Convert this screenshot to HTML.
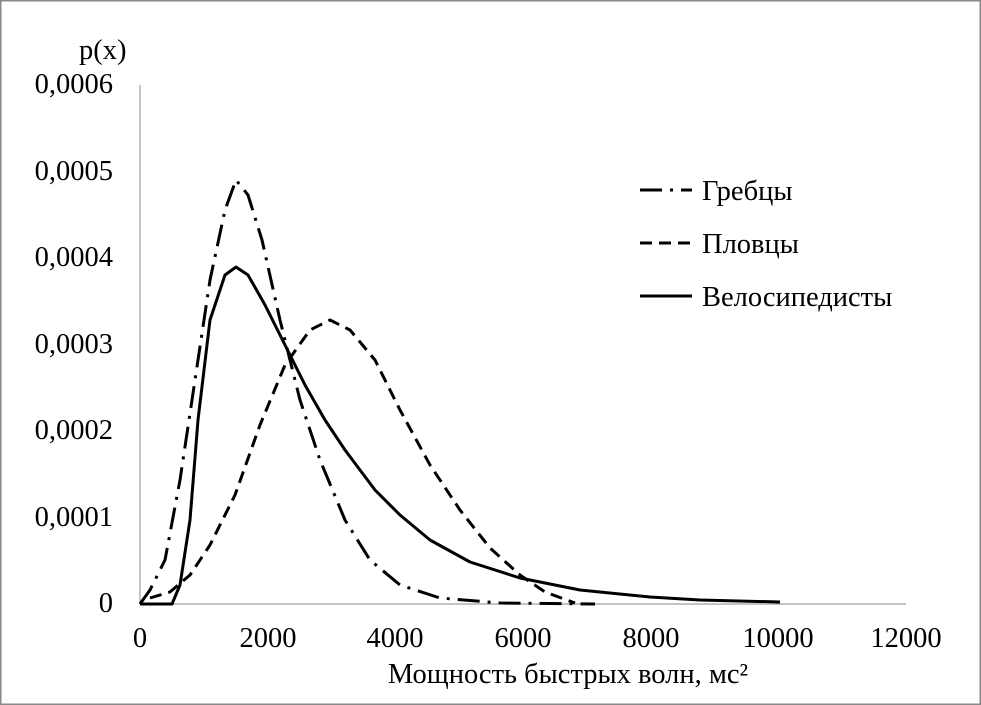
<!DOCTYPE html>
<html><head><meta charset="utf-8"><style>
body{margin:0;background:#fff}
svg{display:block}
text{font-family:"Liberation Serif",serif;font-size:28.5px;fill:#000}
</style></head><body>
<svg width="981" height="705" viewBox="0 0 981 705">
<rect x="0.5" y="0.5" width="980" height="704" fill="#fff" stroke="#888" stroke-width="2"/>
<line x1="140" y1="85" x2="140" y2="604" stroke="#888" stroke-width="1"/>
<line x1="140" y1="604" x2="906" y2="604" stroke="#888" stroke-width="1"/>
<g text-anchor="end">
<text x="113" y="93">0,0006</text>
<text x="113" y="180">0,0005</text>
<text x="113" y="266">0,0004</text>
<text x="113" y="353">0,0003</text>
<text x="113" y="439">0,0002</text>
<text x="113" y="526">0,0001</text>
<text x="113" y="612">0</text>
</g>
<text x="79" y="59">p(x)</text>
<g text-anchor="middle">
<text x="140" y="647">0</text>
<text x="268" y="647">2000</text>
<text x="395" y="647">4000</text>
<text x="523" y="647">6000</text>
<text x="651" y="647">8000</text>
<text x="778" y="647">10000</text>
<text x="906" y="647">12000</text>
<text x="568" y="683">Мощность быстрых волн, мс²</text>
</g>
<g fill="none" stroke="#000" stroke-width="3" stroke-linejoin="round">
<path stroke-dasharray="22,8,3,8" d="M140,604 L150,590 165,560 180,480 195,380 210,280 225,210 236,180 248,195 262,240 280,320 300,400 320,460 345,520 370,560 400,585 440,598 500,603 595,604"/>
<path stroke-dasharray="12,7" d="M150,598 L170,592 190,575 210,545 235,495 260,425 285,365 310,330 330,320 350,330 375,360 400,410 430,465 460,510 490,548 520,575 545,592 575,603"/>
<path d="M140,604 L172,604 180,585 190,520 198,420 210,320 225,275 236,267 248,275 265,305 285,345 305,385 325,420 345,450 375,490 400,515 430,540 470,562 520,578 580,590 650,597 700,600 780,602"/>
<line x1="640" y1="190" x2="692" y2="190" stroke-dasharray="22,8,3,8"/>
<line x1="640" y1="243" x2="692" y2="243" stroke-dasharray="12,7"/>
<line x1="640" y1="296" x2="692" y2="296"/>
</g>
<text x="702" y="200">Гребцы</text>
<text x="702" y="253">Пловцы</text>
<text x="702" y="306">Велосипедисты</text>
</svg>
</body></html>
